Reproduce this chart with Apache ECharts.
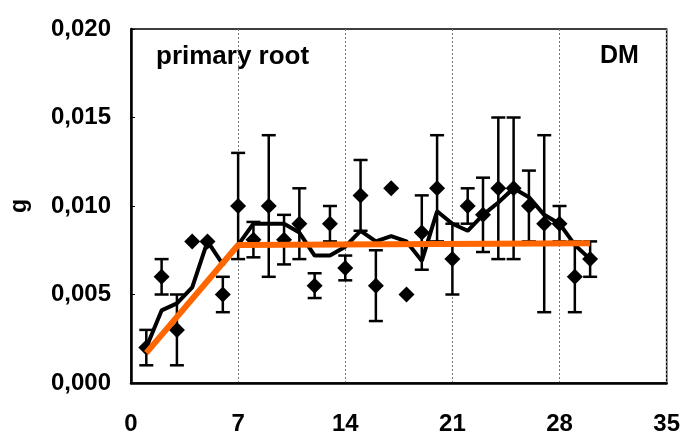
<!DOCTYPE html>
<html>
<head>
<meta charset="utf-8">
<script src="https://cdn.jsdelivr.net/npm/echarts@6/dist/echarts.min.js"></script>
<style>
html,body{margin:0;padding:0;background:#fff;}
#chart{width:683px;height:436px;}
</style>
</head>
<body>
<div id="chart"></div>
<script>
// Data (day, mean dry mass in g, error)
const days = [1,2,3,4,5,6,7,8,9,10,11,12,13,14,15,16,17,18,19,20,21,22,23,24,25,26,27,28,29,30];
const means = [0.002,0.006,0.003,0.008,0.008,0.005,0.010,0.0081,0.010,0.0081,0.009,0.0055,0.009,0.0065,0.0106,0.0055,0.011,0.005,0.0085,0.011,0.007,0.010,0.0095,0.011,0.011,0.010,0.009,0.009,0.006,0.007];
const errors = [0.001,0.001,0.002,0,0,0.001,0.003,0.001,0.004,0.0014,0.002,0.0007,0.001,0.0007,0.002,0.002,0,0,0.0021,0.003,0.002,0.001,0.0021,0.004,0.004,0.002,0.005,0.001,0.002,0.001];
const movingAvg = [0.002,0.0041,0.0045,0.0054,0.008,0.0067,0.0078,0.009,0.009,0.009,0.0085,0.0072,0.0072,0.0077,0.0086,0.008,0.0083,0.008,0.0069,0.0097,0.009,0.0086,0.0095,0.0102,0.011,0.0105,0.0095,0.009,0.0078,0.007];
const fitDays = [1,7,30];
const fitValues = [0.0017,0.0078,0.0079];
const xTicks = [0,7,14,21,28,35];
const yTicks = [0,0.005,0.010,0.015,0.020];
const yName = 'g';
const labelLeft = 'primary root';
const labelRight = 'DM';

const chart = echarts.init(document.getElementById('chart'), null, {renderer:'canvas'});
const font = '"Liberation Sans", Arial, sans-serif';

const pts = days.map((d,i)=>[d, means[i]]);
const errData = days.map((d,i)=>[d, means[i], errors[i]]);
const avgData = days.map((d,i)=>[d, movingAvg[i]]);
const fitData = fitDays.map((d,i)=>[d, fitValues[i]]);

chart.setOption({
  animation:false,
  backgroundColor:'#fff',
  grid:{left:128,right:16,top:29,bottom:51,show:true,borderColor:'#000',borderWidth:1.5,backgroundColor:'transparent'},
  xAxis:{
    type:'value',min:xTicks[0],max:xTicks[xTicks.length-1],interval:7,
    axisLine:{show:true,onZero:false,lineStyle:{color:'#000',width:2.5}},
    axisTick:{show:false},
    splitLine:{show:true,lineStyle:{color:'#777',type:[2,2],width:1}},
    axisLabel:{color:'#000',fontFamily:font,fontWeight:'bold',fontSize:24,margin:29}
  },
  yAxis:{
    type:'value',min:yTicks[0],max:yTicks[yTicks.length-1],interval:0.005,
    name:yName,nameLocation:'middle',nameRotate:90,nameGap:100,
    nameTextStyle:{color:'#000',fontFamily:font,fontWeight:'bold',fontSize:23},
    axisLine:{show:true,onZero:false,lineStyle:{color:'#000',width:2.5}},
    axisTick:{show:true,inside:true,length:4,lineStyle:{color:'#000',width:1}},
    splitLine:{show:false},
    axisLabel:{color:'#000',fontFamily:font,fontWeight:'bold',fontSize:24,margin:20,
      formatter:v=>v.toFixed(3).replace('.',',')}
  },
  graphic:[
    {type:'text',left:156,top:44,style:{text:labelLeft,fill:'#000',font:'bold 26px '+font}},
    {type:'text',left:600,top:44,style:{text:labelRight,fill:'#000',font:'bold 25px '+font}}
  ],
  series:[
    {
      type:'custom',
      data:errData,
      renderItem:function(params,api){
        const x=api.value(0),m=api.value(1),e=api.value(2);
        if(!e) return {type:'group',children:[]};
        const t=api.coord([x,m+e]), b=api.coord([x,m-e]);
        const hw=7;
        const st={stroke:'#000',lineWidth:2.5};
        return {type:'group',children:[
          {type:'line',shape:{x1:t[0],y1:t[1],x2:b[0],y2:b[1]},style:st},
          {type:'line',shape:{x1:t[0]-hw,y1:t[1],x2:t[0]+hw,y2:t[1]},style:st},
          {type:'line',shape:{x1:b[0]-hw,y1:b[1],x2:b[0]+hw,y2:b[1]},style:st}
        ]};
      },
      z:2
    },
    {
      type:'scatter',data:pts,symbol:'diamond',symbolSize:16,
      itemStyle:{color:'#000',opacity:1},z:3
    },
    {
      type:'line',data:avgData,symbol:'none',
      lineStyle:{color:'#000',width:4},z:4
    },
    {
      type:'line',data:fitData,symbol:'none',
      lineStyle:{color:'#FF6600',width:6},z:5
    }
  ]
});
</script>
</body>
</html>
